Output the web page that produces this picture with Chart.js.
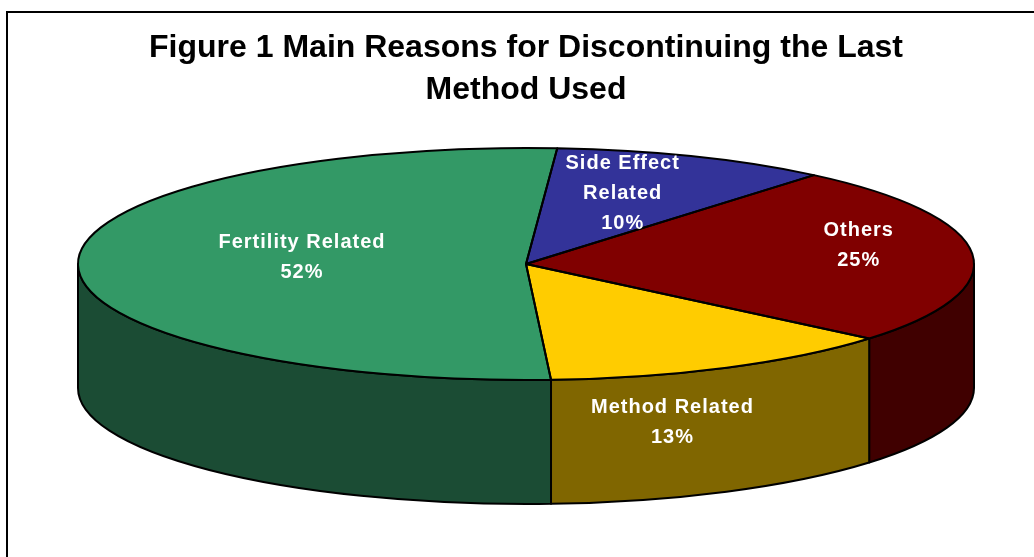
<!DOCTYPE html>
<html>
<head>
<meta charset="utf-8">
<script src="https://cdn.jsdelivr.net/npm/chart.js@4.4.1/dist/chart.umd.min.js"></script>
<style>
  html, body { margin: 0; padding: 0; background: #ffffff; }
  #wrap { width: 1034px; height: 557px; position: relative; }
</style>
</head>
<body>
<div id="wrap"><canvas id="c" width="1034" height="557"></canvas></div>
<script>
// ---- data ----
const categories = [['Side Effect', 'Related'], ['Others'], ['Method Related'], ['Fertility Related']];
const values = [10, 25, 13, 52];
const titleLines = ['Figure 1 Main Reasons for Discontinuing the Last', 'Method Used'];

// ---- styles ----
const topColors  = ['#333399', '#800000', '#FFCC00', '#339966'];
const sideColors = ['#1a1a4d', '#400000', '#806600', '#1b4c34'];
const labelRadius = [0.6, 0.75, 0.73, 0.5];
const labelDx = [-4, -2, 0, 0];
const labelDy = [-6, -11, 83, -6];
const GEOM = { cx: 526, cy: 264, rx: 448, ry: 116, depth: 124 };
const FONT = "'Liberation Sans', Arial, sans-serif";

function slicePieces(a1, a2) {
  // visible front wall parts: where sin(angle) > 0
  const pieces = [];
  for (let k = -2; k <= 2; k++) {
    const lo = k * 2 * Math.PI, hi = lo + Math.PI;
    const s = Math.max(a1, lo), e = Math.min(a2, hi);
    if (e > s) pieces.push([s, e]);
  }
  return pieces;
}

const pie3d = {
  id: 'pie3d',
  beforeDraw(chart) {
    const ctx = chart.ctx;
    ctx.save();
    ctx.fillStyle = '#ffffff';
    ctx.fillRect(0, 0, chart.width, chart.height);
    ctx.strokeStyle = '#000000';
    ctx.lineWidth = 2;
    ctx.strokeRect(7, 12, 1200, 700);
    ctx.restore();
  },
  beforeDatasetsDraw(chart) {
    const ctx = chart.ctx;
    const meta = chart.getDatasetMeta(0);
    const G = GEOM;
    // side walls
    ctx.save();
    meta.data.forEach((arc, i) => {
      const p = arc.getProps(['startAngle', 'endAngle'], true);
      slicePieces(p.startAngle, p.endAngle).forEach(([s, e]) => {
        ctx.beginPath();
        ctx.ellipse(G.cx, G.cy, G.rx, G.ry, 0, s, e, false);
        ctx.ellipse(G.cx, G.cy + G.depth, G.rx, G.ry, 0, e, s, true);
        ctx.closePath();
        ctx.fillStyle = sideColors[i];
        ctx.fill();
        ctx.lineWidth = 2;
        ctx.lineJoin = 'round';
        ctx.strokeStyle = '#000';
        ctx.stroke();
      });
    });
    ctx.restore();
    // squash the library's pie into the top ellipse
    const a0 = meta.data[0];
    const pr = a0.getProps(['x', 'y', 'outerRadius'], true);
    ctx.save();
    ctx.translate(G.cx, G.cy);
    ctx.scale(G.rx / pr.outerRadius, G.ry / pr.outerRadius);
    ctx.translate(-pr.x, -pr.y);
  },
  afterDatasetsDraw(chart) {
    const ctx = chart.ctx;
    ctx.restore();
    const meta = chart.getDatasetMeta(0);
    const G = GEOM;
    ctx.save();
    ctx.strokeStyle = '#000';
    ctx.lineWidth = 2;
    ctx.lineJoin = 'round';
    meta.data.forEach((arc) => {
      const p = arc.getProps(['startAngle', 'endAngle'], true);
      ctx.beginPath();
      ctx.moveTo(G.cx, G.cy);
      ctx.ellipse(G.cx, G.cy, G.rx, G.ry, 0, p.startAngle, p.endAngle, false);
      ctx.closePath();
      ctx.stroke();
    });
    // labels
    const total = values.reduce((a, b) => a + b, 0);
    ctx.fillStyle = '#ffffff';
    ctx.font = 'bold 20px ' + FONT;
    try { ctx.letterSpacing = '1px'; } catch (e) {}
    ctx.textAlign = 'center';
    ctx.textBaseline = 'middle';
    meta.data.forEach((arc, i) => {
      const p = arc.getProps(['startAngle', 'endAngle'], true);
      const mid = (p.startAngle + p.endAngle) / 2;
      const x = G.cx + G.rx * labelRadius[i] * Math.cos(mid) + labelDx[i];
      const y = G.cy + G.ry * labelRadius[i] * Math.sin(mid) + labelDy[i];
      const lines = categories[i].concat([Math.round(values[i] / total * 100) + '%']);
      const lh = 30;
      lines.forEach((t, j) => {
        ctx.fillText(t, x, y + (j - (lines.length - 1) / 2) * lh);
      });
    });
    ctx.restore();
  }
};

new Chart(document.getElementById('c'), {
  type: 'pie',
  data: {
    labels: categories.map(c => c.join(' ')),
    datasets: [{
      data: values,
      backgroundColor: topColors,
      borderWidth: 0,
      clip: false
    }]
  },
  options: {
    responsive: false,
    animation: false,
    events: [],
    rotation: 4,
    layout: { padding: { left: 18, top: 0, right: 0, bottom: 10 } },
    plugins: {
      legend: { display: false },
      tooltip: { enabled: false },
      title: {
        display: true,
        text: titleLines,
        color: '#000000',
        font: { family: FONT, size: 32, weight: 'bold', lineHeight: 1.31 },
        padding: { top: 27, bottom: 10 }
      }
    }
  },
  plugins: [pie3d]
});
</script>
</body>
</html>
